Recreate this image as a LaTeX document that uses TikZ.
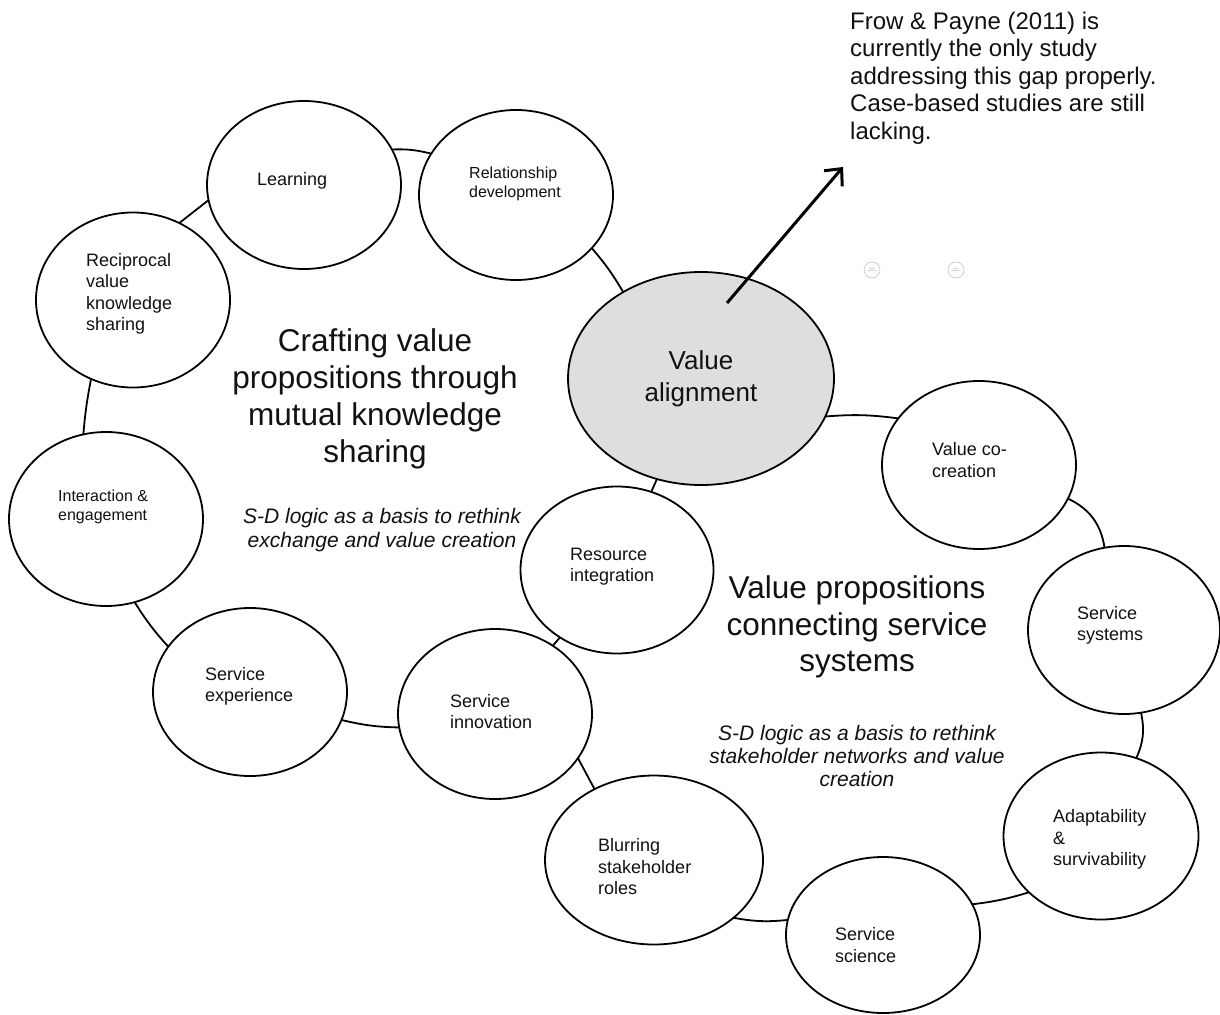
\documentclass[tikz,border=0pt]{standalone}
\usepackage{fontspec}
\setmainfont{Liberation Sans}
\usetikzlibrary{arrows.meta,shapes.geometric}
\definecolor{vagray}{HTML}{DEDEDE}
\definecolor{txt}{HTML}{111111}
\begin{document}
\begin{tikzpicture}[x=1pt,y=-1pt,
  bub/.style={ellipse, draw, line width=1.8pt, fill=white, inner sep=0pt, outer sep=0pt, minimum width=194pt, minimum height=168pt},
  conn/.style={line width=1.8pt},
  lab/.style={anchor=west, inner sep=0pt, align=left, text=txt, font=\fontsize{18}{21.5}\selectfont},
  labs/.style={anchor=west, inner sep=0pt, align=left, text=txt, font=\fontsize{16}{18.8}\selectfont},
  big/.style={anchor=center, inner sep=0pt, align=center, text=txt, font=\fontsize{31.5}{36.8}\selectfont},
  ital/.style={anchor=center, inner sep=0pt, align=center, text=txt, font=\fontsize{21}{23.2}\selectfont\itshape},
  tinyc/.style={circle, draw=gray!55, line width=0.5pt, minimum size=16pt, inner sep=0pt, text=gray, font=\fontsize{2}{2.4}\selectfont, align=center}
]
\useasboundingbox (0,0) rectangle (1220,1014);
\begin{scope}
\clip (0,0) rectangle (1220,1014);
% bubbles
\node[bub] (learn)   at (304,185) {};
\node[bub, minimum height=170pt] (reldev)  at (516,195) {};
\node[bub, minimum height=175pt] (recip)   at (133,300) {};
\node[bub, minimum height=174pt] (inter)   at (106,519) {};
\node[bub] (servexp) at (250,692) {};
\node[bub, minimum height=170pt] (servinn) at (495,714) {};
\node[bub, minimum width=193pt, minimum height=167pt] (resint)  at (617,570) {};
\node[bub, fill=vagray, minimum width=266pt, minimum height=213pt] (va) at (701,378.5) {};
\node[bub] (vcc)     at (979,465) {};
\node[bub, minimum width=192pt] (servsys) at (1124,630) {};
\node[bub, minimum width=195pt, minimum height=167pt] (adapt)   at (1101,836) {};
\node[bub, minimum height=156pt] (servsci) at (883,935) {};
\node[bub, minimum width=218pt, minimum height=169pt] (blur)    at (654,860) {};

% connectors along the two rings
\draw[conn] (recip.59) -- (learn.189);
\draw[conn] (learn.22) to[bend left=8] (reldev.154);
\draw[conn] (reldev.-35) to[bend left=5] (va.132);
\draw[conn] (va) -- (resint);
\draw[conn] (resint) -- (servinn);
\draw[conn] (servinn.188) to[bend left=6] (servexp.-17);
\draw[conn] (servexp.151) to[bend left=5] (inter.-71);
\draw[conn] (inter.105) to[bend left=3] (recip.242);
\draw[conn] (va.-17) to[bend left=6] (vcc.150);
\draw[conn] (vcc) to[bend left=28] (servsys);
\draw[conn] (servsys) to[bend left=18] (adapt);
\draw[conn] (adapt.218) to[bend left=5] (servsci.19);
\draw[conn] (servsci.171) to[bend left=8] (blur.-36);
\draw[conn] (blur.130) -- (servinn.-28);
\end{scope}

% bubble texts
\node[lab]  (learn-t)   at (257,181)   {Learning};
\node[labs] (reldev-t)  at (469,184) {Relationship\\development};
\node[lab]  (recip-t)   at (86,294)    {Reciprocal\\value\\knowledge\\sharing};
\node[labs] (inter-t)   at (58,506.5)    {Interaction \&\\engagement};
\node[lab]  (servexp-t) at (205,686.5) {Service\\experience};
\node[lab]  (servinn-t) at (450,711.5) {Service\\innovation};
\node[lab]  (resint-t)  at (570,566.5) {Resource\\integration};
\node[anchor=center, inner sep=0pt, align=center, text=txt, font=\fontsize{26}{31.5}\selectfont] (va-t) at (701,379) {Value\\alignment};
\node[lab]  (vcc-t)     at (932,460)   {Value co-\\creation};
\node[lab]  (servsys-t) at (1077,625.5) {Service\\systems};
\node[lab]  (adapt-t)   at (1053,839.5) {Adaptability\\\&\\survivability};
\node[lab]  (servsci-t) at (835,945)   {Service\\science};
\node[lab]  (blur-t)    at (598,867)   {Blurring\\stakeholder\\roles};

% region titles
\node[big]  (left-title)  at (375,399) {Crafting value\\propositions through\\mutual knowledge\\sharing};
\node[ital] (left-sub)    at (382,530) {S-D logic as a basis to rethink\\exchange and value creation};
\node[big]  (right-title) at (857,627) {Value propositions\\connecting service\\systems};
\node[ital] (right-sub)   at (857,756) {S-D logic as a basis to rethink\\stakeholder networks and value\\creation};

% note and arrow
\node[anchor=west, inner sep=0pt, align=left, text=txt, font=\fontsize{24}{27.6}\selectfont] (note) at (850,78)
  {Frow \& Payne (2011) is\\currently the only study\\addressing this gap properly.\\Case-based studies are still\\lacking.};
\coordinate (arr-s) at (727,303);
\coordinate (arr-e) at (843,167);
\draw[line width=3pt, -{Straight Barb[length=13pt,width=24pt,line width=3pt]}] (arr-s) -- (arr-e);

% tiny thumbnails
\node[tinyc] (mini1) at (872,270) {Value\\alignment};
\node[tinyc] (mini2) at (956,270) {Value\\alignment};
\end{tikzpicture}
\end{document}
